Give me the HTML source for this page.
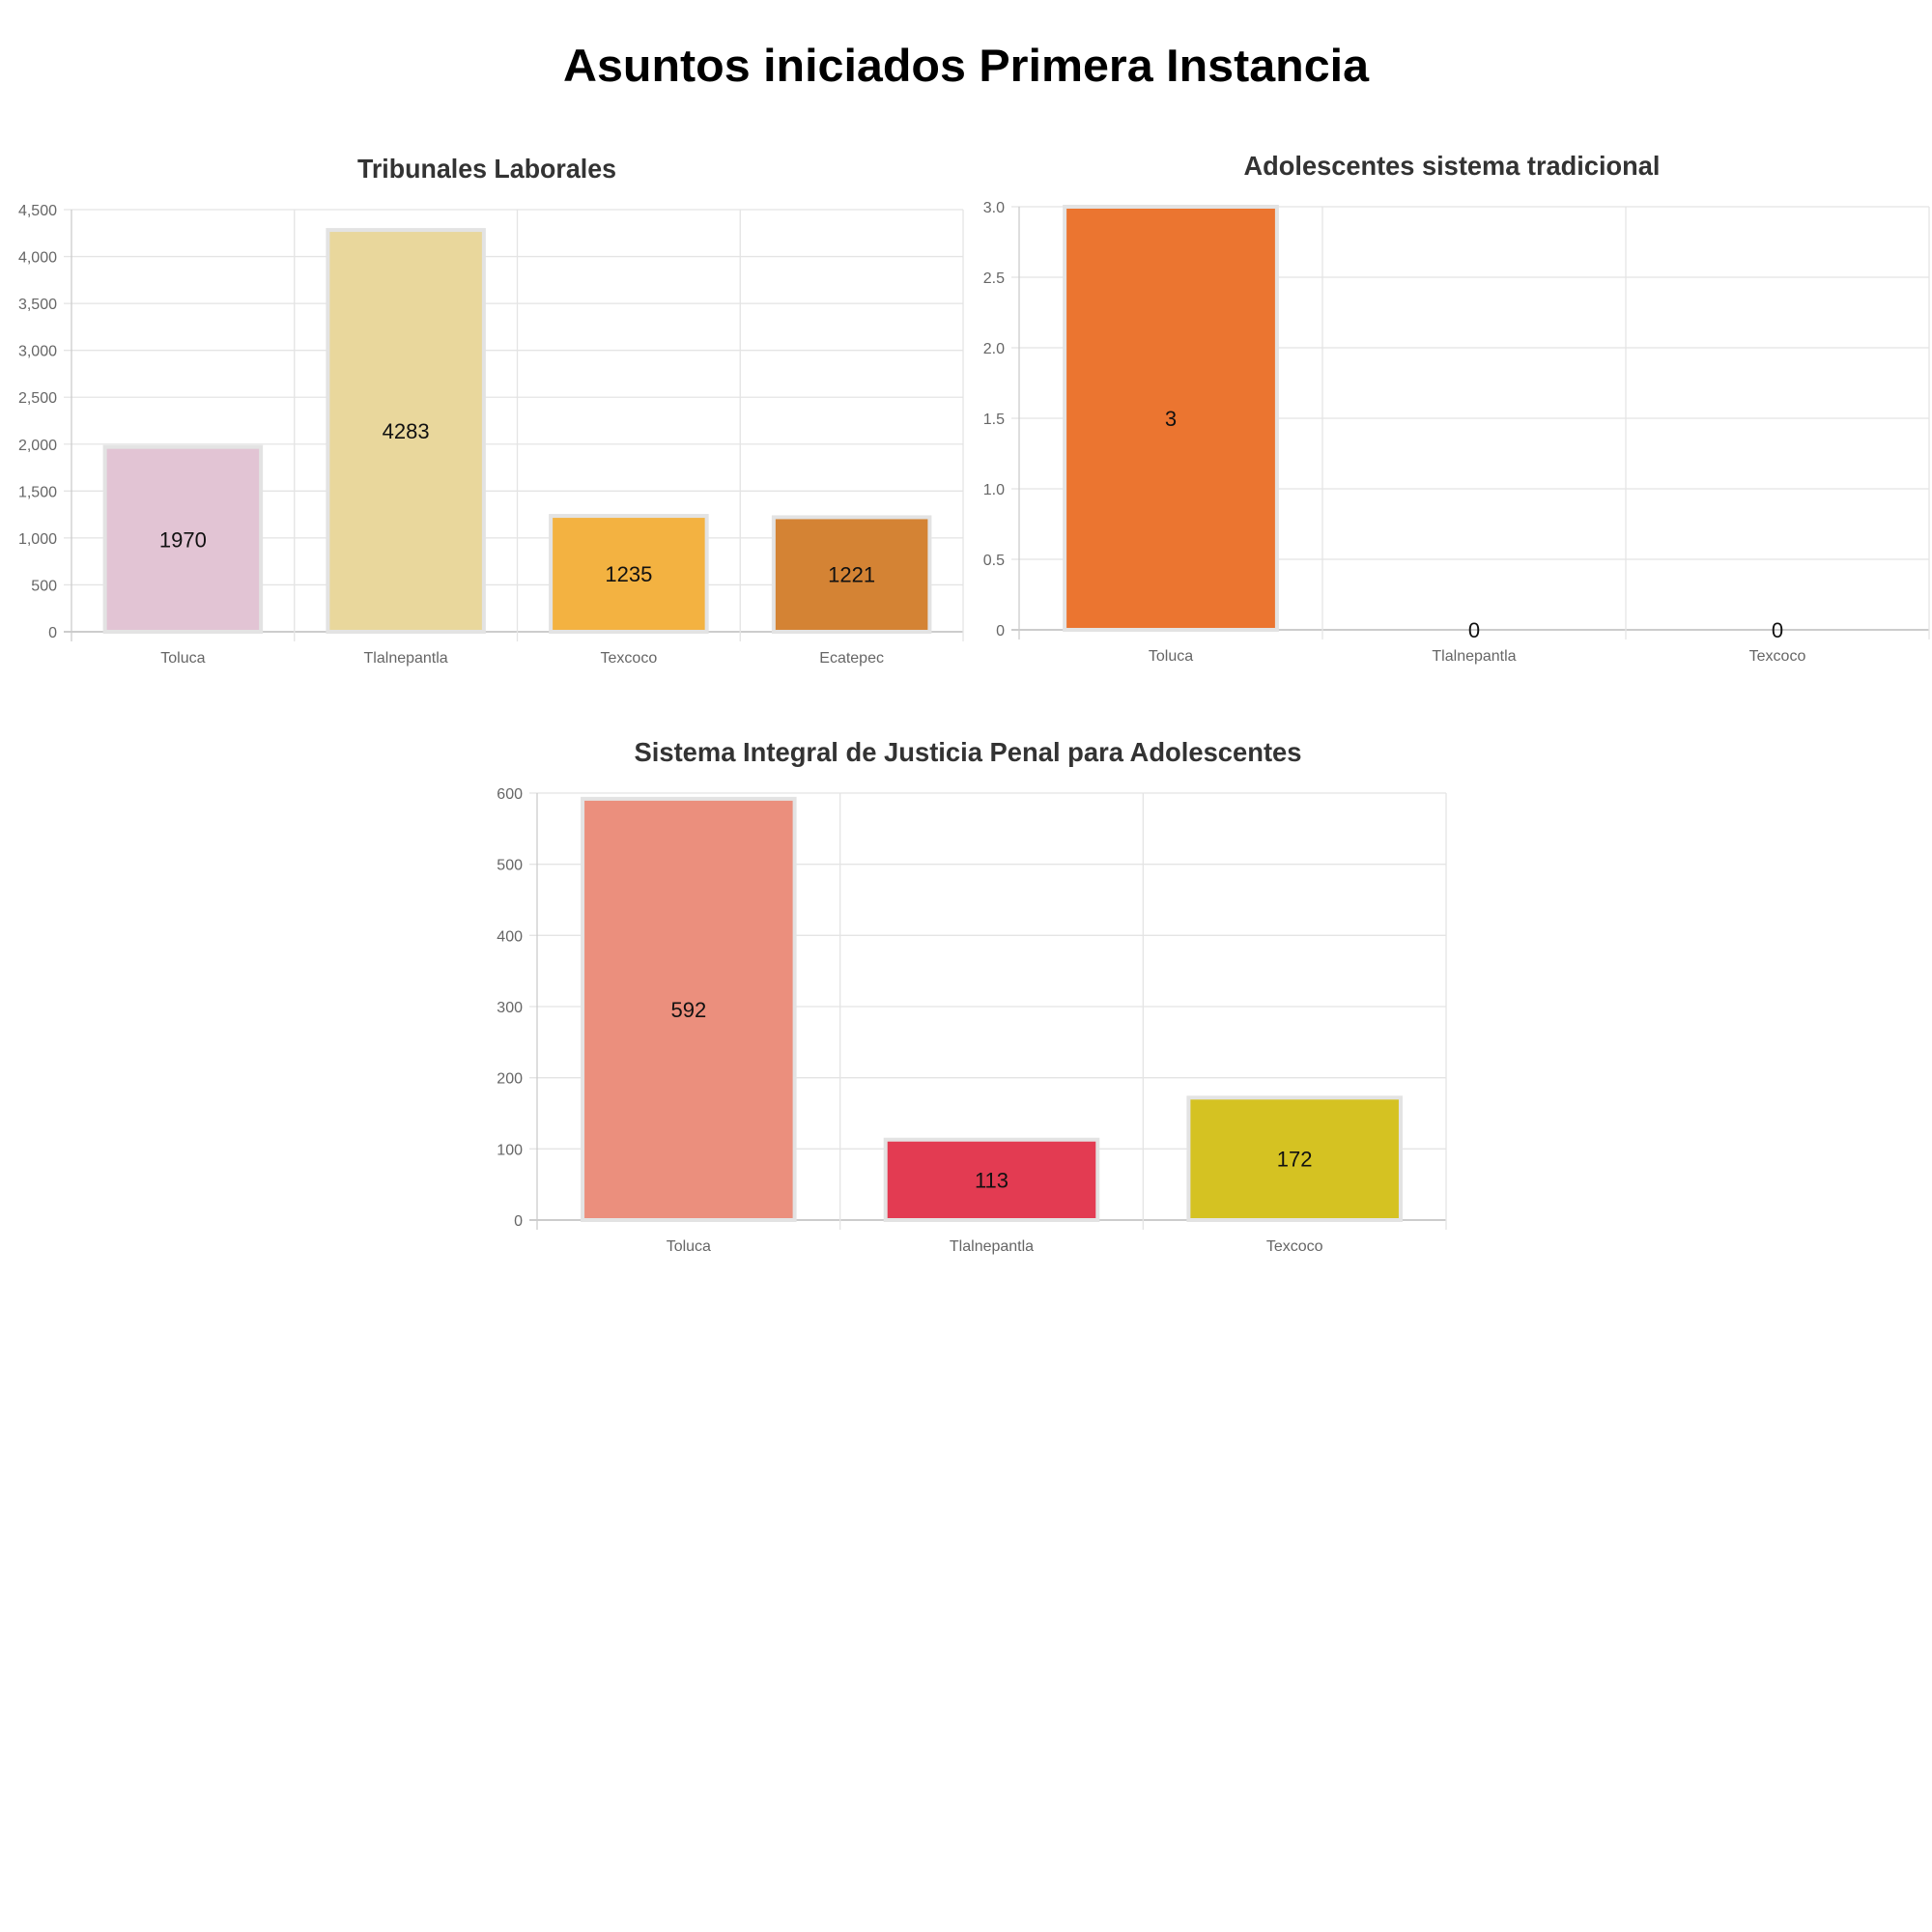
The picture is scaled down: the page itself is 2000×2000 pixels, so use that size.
<!DOCTYPE html>
<html><head><meta charset="utf-8"><style>
html,body{margin:0;padding:0;background:#fff;}
svg{display:block;font-family:"Liberation Sans",sans-serif;}
</style></head><body>
<svg id="root" width="2000" height="2000" viewBox="0 0 2000 2000">
<text x="1000" y="84" text-anchor="middle" font-size="47" font-weight="bold" fill="#000" textLength="834" lengthAdjust="spacingAndGlyphs">Asuntos iniciados Primera Instancia</text>
</svg>
<script>
// Chart 1: Tribunales Laborales
const c1Categories = ["Toluca","Tlalnepantla","Texcoco","Ecatepec"];
const c1Values = [1970,4283,1235,1221];
const c1Ticks = ["0","500","1,000","1,500","2,000","2,500","3,000","3,500","4,000","4,500"];
const c1TickValues = [0,500,1000,1500,2000,2500,3000,3500,4000,4500];
const c1Colors = ["#e2c4d4","#e9d79c","#f3b241","#d48334"];
// Chart 2: Adolescentes sistema tradicional
const c2Categories = ["Toluca","Tlalnepantla","Texcoco"];
const c2Values = [3,0,0];
const c2Ticks = ["0","0.5","1.0","1.5","2.0","2.5","3.0"];
const c2TickValues = [0,0.5,1,1.5,2,2.5,3];
const c2Colors = ["#eb7530","#eb7530","#eb7530"];
// Chart 3: Sistema Integral
const c3Categories = ["Toluca","Tlalnepantla","Texcoco"];
const c3Values = [592,113,172];
const c3Ticks = ["0","100","200","300","400","500","600"];
const c3TickValues = [0,100,200,300,400,500,600];
const c3Colors = ["#eb8f7d","#e33b52","#d5c222"];

const NS = "http://www.w3.org/2000/svg";
const root = document.getElementById("root");
function mk(tag, attrs, parent){
  const e = document.createElementNS(NS, tag);
  for (const k in attrs) e.setAttribute(k, attrs[k]);
  (parent||root).appendChild(e);
  return e;
}
function chart(cfg){
  const g = mk("g", {});
  
  
  const t = mk("text", {x:cfg.tx, y:cfg.ty, "text-anchor":"middle", "font-size":28, "font-weight":"bold", fill:"#333", textLength:cfg.tl, lengthAdjust:"spacingAndGlyphs"}, g);
  t.textContent = cfg.title;
  
  
  const L=cfg.l, R=cfg.r, T=cfg.t, B=cfg.b;
  const max = cfg.tickValues[cfg.tickValues.length-1];
  const y = v => B - (v/max)*(B-T);
  const n = cfg.cats.length, cw = (R-L)/n;
  const x = i => L + i*cw;
  cfg.tickValues.forEach((v,i)=>{
    const ln = mk("line",{x1:L-8,x2:R,y1:y(v),y2:y(v),stroke: v===0?"#ccc":"#e4e4e4","stroke-width":v===0?2:1.3},g);
    
    
    const tx = mk("text",{x:L-15,y:y(v)+6,"text-anchor":"end","font-size":16,fill:"#666"},g);
    tx.textContent = cfg.ticks[i];
    
    
  });
  for(let i=0;i<=n;i++){
    const ln = mk("line",{x1:x(i),x2:x(i),y1:T,y2:B+10,stroke:i===0?"#ccc":"#e4e4e4","stroke-width":1.3},g);
    
    
  }
  cfg.cats.forEach((c,i)=>{
    const cx = x(i)+cw/2, bw = cw*0.7, v = cfg.vals[i];
    if (v>0){
      const r = mk("rect",{x:cx-bw/2,y:y(v),width:bw,height:B-y(v),fill:cfg.colors[i],stroke:"#e3e3e3","stroke-width":4},g);
      
      
    }
    const vl = mk("text",{x:cx,y:(y(v)+B)/2+8,"text-anchor":"middle","font-size":22,fill:"#111"},g);
    vl.textContent = String(v);
    
    
    const cl = mk("text",{x:cx,y:B+32,"text-anchor":"middle","font-size":16,fill:"#666"},g);
    cl.textContent = c;
    
    
  });
}
chart({name:"tribunales-laborales-chart",title:"Tribunales Laborales",tx:504,ty:184,tl:268,l:74,r:997,t:217,b:654,cats:c1Categories,vals:c1Values,ticks:c1Ticks,tickValues:c1TickValues,colors:c1Colors});
chart({name:"adolescentes-tradicional-chart",title:"Adolescentes sistema tradicional",tx:1503,ty:181,tl:431,l:1055,r:1997,t:214,b:652,cats:c2Categories,vals:c2Values,ticks:c2Ticks,tickValues:c2TickValues,colors:c2Colors});
chart({name:"sistema-integral-chart",title:"Sistema Integral de Justicia Penal para Adolescentes",tx:1002,ty:788,tl:691,l:556,r:1497,t:821,b:1263,cats:c3Categories,vals:c3Values,ticks:c3Ticks,tickValues:c3TickValues,colors:c3Colors});
</script>
</body></html>
